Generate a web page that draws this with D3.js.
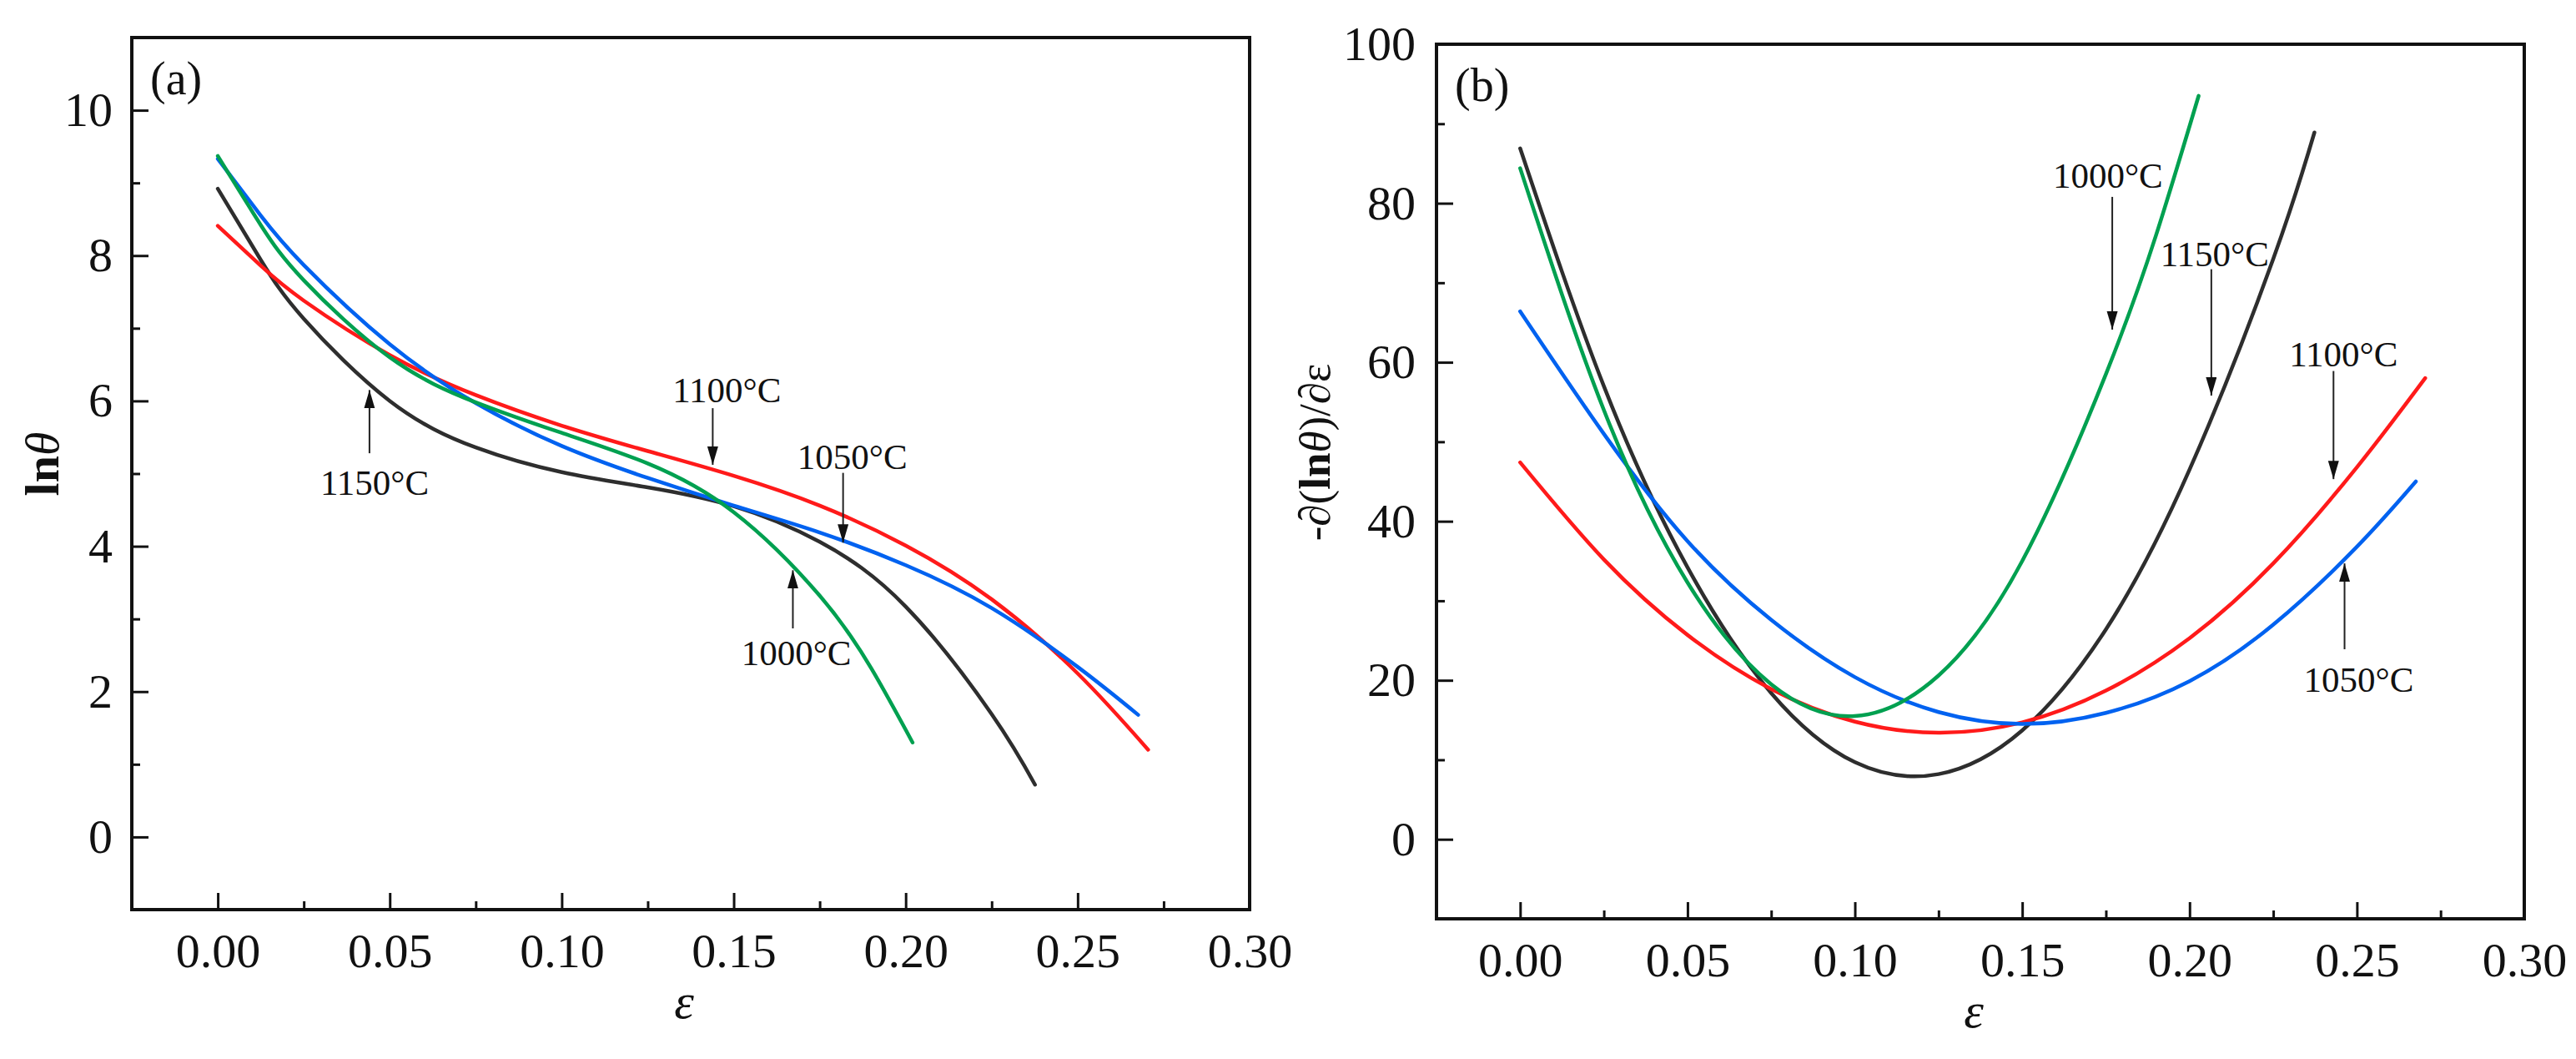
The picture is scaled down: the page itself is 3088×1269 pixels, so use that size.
<!DOCTYPE html>
<html>
<head>
<meta charset="utf-8">
<script src="https://cdn.jsdelivr.net/npm/d3@7"></script>
<style>
  body { margin: 0; background: #fff; }
  svg text { font-family: "Liberation Serif", "Times New Roman", serif; fill: #111; }
</style>
</head>
<body>
<div id="chart"></div>
<script>
// temperatures (legend order in the paper)
const temps = ["1000°C", "1050°C", "1100°C", "1150°C"];

// (a) ln(theta) vs strain
const epsA1000 = [0, 0.0125, 0.025, 0.05, 0.075, 0.1, 0.125, 0.15, 0.175, 0.19, 0.202];
const lnA1000  = [9.37, 8.42, 7.66, 6.60, 5.98, 5.56, 5.14, 4.47, 3.32, 2.32, 1.30];
const epsA1050 = [0, 0.0125, 0.025, 0.05, 0.075, 0.1, 0.125, 0.15, 0.175, 0.2, 0.225, 0.25, 0.2676];
const lnA1050  = [9.33, 8.55, 7.87, 6.78, 5.97, 5.38, 4.94, 4.56, 4.19, 3.74, 3.15, 2.34, 1.68];
const epsA1100 = [0, 0.0125, 0.025, 0.05, 0.075, 0.1, 0.125, 0.15, 0.175, 0.2, 0.225, 0.25, 0.2705];
const lnA1100  = [8.41, 7.86, 7.38, 6.63, 6.08, 5.66, 5.31, 4.97, 4.56, 4.01, 3.27, 2.25, 1.20];
const epsA1150 = [0, 0.0125, 0.025, 0.05, 0.075, 0.1, 0.125, 0.15, 0.175, 0.2, 0.225, 0.2376];
const lnA1150  = [8.92, 7.94, 7.13, 6.00, 5.36, 5.02, 4.81, 4.55, 4.06, 3.17, 1.69, 0.72];

// (b) -d(ln theta)/d eps vs strain
const epsB1000 = [0, 0.025, 0.05, 0.075, 0.1, 0.125, 0.15, 0.175, 0.19, 0.2027];
const dB1000   = [84.4, 54.0, 32.3, 19.5, 15.5, 20.6, 35.0, 58.5, 76.0, 93.5];
const epsB1050 = [0, 0.025, 0.05, 0.075, 0.1, 0.125, 0.15, 0.175, 0.2, 0.225, 0.25, 0.2676];
const dB1050   = [66.4, 51.0, 37.5, 27.6, 20.4, 16.0, 14.5, 15.9, 19.9, 27.0, 36.8, 45.0];
const epsB1100 = [0, 0.025, 0.05, 0.075, 0.1, 0.125, 0.15, 0.175, 0.2, 0.225, 0.25, 0.2704];
const dB1100   = [47.4, 35.2, 25.7, 18.9, 14.8, 13.4, 14.7, 18.7, 25.3, 34.7, 46.8, 58.0];
const epsB1150 = [0, 0.025, 0.05, 0.075, 0.1, 0.125, 0.15, 0.175, 0.2, 0.225, 0.2373];
const dB1150   = [86.9, 57.0, 34.2, 18.4, 9.7, 8.2, 13.7, 26.4, 46.5, 73.0, 88.9];

// tick values
const xTicks = [0, 0.05, 0.10, 0.15, 0.20, 0.25, 0.30];
const xMinor = [0.025, 0.075, 0.125, 0.175, 0.225, 0.275];
const yTicksA = [0, 2, 4, 6, 8, 10];
const yMinorA = [1, 3, 5, 7, 9];
const yTicksB = [0, 20, 40, 60, 80, 100];
const yMinorB = [10, 30, 50, 70, 90];

const colors = { "1000°C": "#00a050", "1050°C": "#0062f0", "1100°C": "#ff1a1a", "1150°C": "#2e2e2e" };

const W = 3088, H = 1269;
const svg = d3.select("#chart").append("svg").attr("width", W).attr("height", H);

svg.append("defs").append("marker")
    .attr("id", "arr")
    .attr("markerUnits", "userSpaceOnUse")
    .attr("markerWidth", 24).attr("markerHeight", 14)
    .attr("refX", 22).attr("refY", 6.5)
    .attr("orient", "auto")
  .append("path")
    .attr("d", "M0,0 L22,6.5 L0,13 Z")
    .attr("fill", "#111");

function panel(opt) {
    const x = d3.scaleLinear().domain([-0.025, 0.30]).range([opt.left, opt.right]);
    const y = d3.scaleLinear().domain(opt.yDomain).range([opt.bottom, opt.top]);
    const g = svg.append("g");

    // major + minor ticks pointing inward
    g.append("g").attr("transform", `translate(0,${opt.bottom})`)
        .call(d3.axisBottom(x).tickValues(xTicks).tickSize(-20).tickPadding(28).tickFormat(d3.format(".2f")));
    g.append("g").attr("transform", `translate(0,${opt.bottom})`)
        .call(d3.axisBottom(x).tickValues(xMinor).tickSize(-10).tickFormat(""));
    g.append("g").attr("transform", `translate(${opt.left},0)`)
        .call(d3.axisLeft(y).tickValues(opt.yTicks).tickSize(-20).tickPadding(opt.yPad).tickFormat(d3.format("d")));
    g.append("g").attr("transform", `translate(${opt.left},0)`)
        .call(d3.axisLeft(y).tickValues(opt.yMinor).tickSize(-10).tickFormat(""));

    g.selectAll(".domain").remove();
    g.selectAll(".tick line").attr("stroke", "#111").attr("stroke-width", 3);
    g.selectAll(".tick text").style("font-size", "58px").attr("fill", "#111");

    g.append("rect")
        .attr("x", opt.left).attr("y", opt.top)
        .attr("width", opt.right - opt.left).attr("height", opt.bottom - opt.top)
        .attr("fill", "none").attr("stroke", "#111").attr("stroke-width", 4);

    // curves
    const line = d3.line().x(d => x(d[0])).y(d => y(d[1])).curve(d3.curveNatural);
    opt.series.forEach(s => {
        g.append("path")
            .datum(d3.zip(s.eps, s.val))
            .attr("d", line)
            .attr("fill", "none")
            .attr("stroke", colors[s.name])
            .attr("stroke-width", 4.5)
            .attr("stroke-linecap", "round");
    });

    // arrows + temperature labels
    opt.notes.forEach(n => {
        g.append("line")
            .attr("x1", x(n.at)).attr("y1", y(n.from))
            .attr("x2", x(n.at)).attr("y2", y(n.to))
            .attr("stroke", "#222").attr("stroke-width", 2)
            .attr("marker-end", "url(#arr)");
        g.append("text")
            .attr("x", x(n.tx)).attr("y", y(n.ty))
            .attr("text-anchor", "middle")
            .style("font-size", "43px")
            .text(n.name);
    });

    g.append("text")
        .attr("x", opt.left + 22).attr("y", opt.top + 68)
        .style("font-size", "56px")
        .text(opt.tag);

    // axis titles
    g.append("text")
        .attr("x", (opt.left + opt.right) / 2 - 8).attr("y", opt.bottom + 130)
        .attr("text-anchor", "middle")
        .style("font-size", "60px").style("font-style", "italic")
        .text("ε");

    const yl = g.append("text")
        .attr("transform", `translate(${opt.yLabelX},${opt.yLabelY}) rotate(-90)`)
        .attr("text-anchor", "middle")
        .style("font-size", opt.yLabelSize);
    opt.yLabel.forEach(p => {
        yl.append("tspan").text(p.t)
            .style("font-weight", p.b ? "bold" : "normal")
            .style("font-style", p.i ? "italic" : "normal");
    });
}

panel({
    left: 158, right: 1498, top: 45, bottom: 1090,
    yDomain: [-1, 11], yTicks: yTicksA, yMinor: yMinorA, yPad: 23,
    tag: "(a)",
    series: [
        { name: temps[3], eps: epsA1150, val: lnA1150 },
        { name: temps[2], eps: epsA1100, val: lnA1100 },
        { name: temps[1], eps: epsA1050, val: lnA1050 },
        { name: temps[0], eps: epsA1000, val: lnA1000 }
    ],
    notes: [
        { name: temps[2], at: 0.1439, from: 5.90, to: 5.12, tx: 0.148, ty: 5.98 },
        { name: temps[1], at: 0.1818, from: 5.01, to: 4.05, tx: 0.1845, ty: 5.06 },
        { name: temps[0], at: 0.1672, from: 2.87, to: 3.67, tx: 0.1682, ty: 2.37 },
        { name: temps[3], at: 0.0441, from: 5.28, to: 6.15, tx: 0.0456, ty: 4.71 }
    ],
    yLabel: [{ t: "ln", b: true }, { t: "θ", i: true }],
    yLabelX: 70, yLabelY: 556, yLabelSize: "58px"
});

panel({
    left: 1722, right: 3026, top: 53, bottom: 1101,
    yDomain: [-10, 100], yTicks: yTicksB, yMinor: yMinorB, yPad: 25,
    tag: "(b)",
    series: [
        { name: temps[3], eps: epsB1150, val: dB1150 },
        { name: temps[2], eps: epsB1100, val: dB1100 },
        { name: temps[1], eps: epsB1050, val: dB1050 },
        { name: temps[0], eps: epsB1000, val: dB1000 }
    ],
    notes: [
        { name: temps[0], at: 0.1769, from: 80.8, to: 64.1, tx: 0.1756, ty: 81.9 },
        { name: temps[3], at: 0.2065, from: 71.7, to: 55.8, tx: 0.2075, ty: 72.1 },
        { name: temps[2], at: 0.243, from: 58.9, to: 45.3, tx: 0.246, ty: 59.5 },
        { name: temps[1], at: 0.2463, from: 23.9, to: 34.7, tx: 0.2505, ty: 18.5 }
    ],
    yLabel: [{ t: "-∂(" }, { t: "ln", b: true }, { t: "θ", i: true }, { t: ")/∂ε" }],
    yLabelX: 1594, yLabelY: 542, yLabelSize: "53px"
});
</script>
</body>
</html>
